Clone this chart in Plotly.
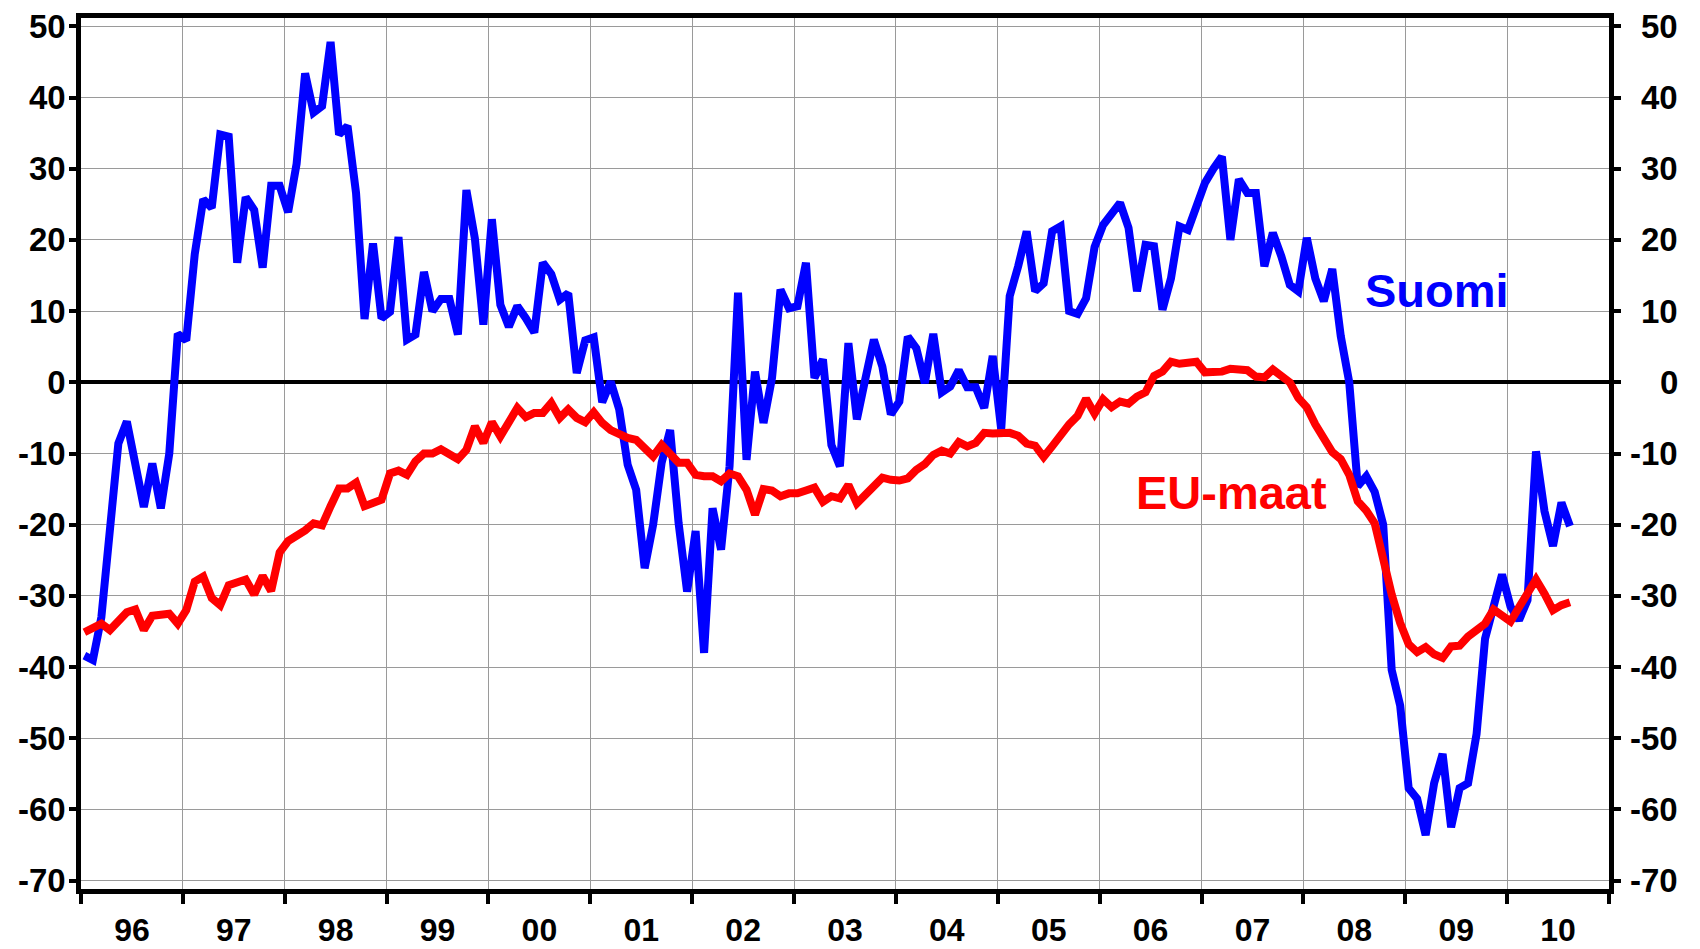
import plotly.graph_objects as go

start_year = 1996
end_year = 2011

suomi = [
    -38.4, -39, -33, -21, -8.6, -5.5, -11.2, -17.5, -11.4, -17.7,
    -10, 6.8, 5.9, 18, 25.7, 24.5, 34.8, 34.5, 16.8, 26,
    24.2, 16.1, 27.6, 27.6, 23.9, 30.7, 43.4, 37.9, 38.8, 47.8,
    34.8, 36, 26.6, 8.9, 19.5, 9, 9.9, 20.4, 6, 6.7,
    15.5, 10, 11.7, 11.7, 6.7, 27, 20.2, 8.1, 22.9, 10.9,
    7.8, 10.7, 9, 7, 16.8, 15.2, 11.6, 12.5, 1.3, 5.9,
    6.3, -2.8, 0.1, -3.8, -11.6, -15.1, -26.1, -20, -11.3, -6.7,
    -19.8, -29.4, -20.9, -38, -17.7, -23.5, -11.8, 12.6, -10.9, 1.5,
    -5.7, 0.6, 13, 10.4, 10.7, 16.8, 0.6, 3.2, -8.8, -11.8,
    5.5, -5.2, 0.5, 6, 2.2, -4.5, -2.7, 6.4, 4.8, -0.1,
    6.8, -1.4, -0.6, 1.7, -0.7, -0.7, -3.6, 3.7, -6.6, 12.1,
    16.3, 21.2, 12.8, 13.9, 21.2, 21.9, 10, 9.6, 11.8, 19,
    22.1, 23.8, 25.2, 21.7, 12.8, 19.3, 19.1, 10.2, 14.6, 21.9,
    21.4, 24.7, 28, 30, 31.7, 20, 28.5, 26.6, 26.6, 16.3,
    21, 17.7, 13.7, 12.8, 20.3, 14.6, 11.4, 15.9, 6.5, 0,
    -14.6, -13.2, -15.4, -20, -40.4, -45.4, -57, -58.5, -63.6, -56.3,
    -52.2, -62.5, -57, -56.3, -49.4, -36, -31.9, -27, -31.5, -33.4,
    -30.6, -9.7, -18.1, -23, -16.9, -20.2,
]

eu_maat = [
    -35.1, -34.5, -33.9, -34.8, -33.6, -32.3, -31.9, -34.8, -32.8, -32.6,
    -32.5, -33.9, -32, -28, -27.3, -30.3, -31.3, -28.5, -28.2, -27.7,
    -29.8, -27.2, -29.3, -23.9, -22.3, -21.7, -20.8, -19.8, -20.1, -17.4,
    -14.9, -14.9, -14.1, -17.4, -16.9, -16.5, -12.8, -12.4, -13, -11.1,
    -10, -10, -9.4, -10, -10.8, -9.5, -6.2, -8.5, -5.6, -7.6,
    -5.6, -3.6, -4.9, -4.3, -4.3, -2.9, -5, -3.8, -5, -5.6,
    -4.2, -5.7, -6.7, -7.4, -7.8, -8.1, -9.4, -10.4, -8.8, -10.2,
    -11.3, -11.3, -13, -13.2, -13.2, -13.9, -12.8, -13.2, -15.1, -18.6,
    -15, -15.2, -16, -15.6, -15.6, -15.2, -14.8, -16.8, -16, -16.3,
    -14.4, -17, -15.8, -14.8, -13.4, -13.7, -13.8, -13.5, -12.3, -11.5,
    -10.2, -9.6, -10, -8.4, -9, -8.5, -7.1, -7.2, -7.1, -7.1,
    -7.5, -8.6, -8.9, -10.5, -9, -7.3, -5.9, -4.7, -2.3, -4.4,
    -2.4, -3.5, -2.7, -3, -2, -1.4, 0.9, 1.5, 2.9, 2.6,
    2.7, 2.9, 1.4, 1.4, 1.5, 1.9, 1.7, 1.7, 0.8, 0.7,
    1.8, 0.8, 0, -2.2, -3.5, -5.9, -8, -9.8, -10.8, -13,
    -16.7, -18, -19.8, -25.3, -29.8, -33.8, -36.8, -37.9, -37.2, -38.2,
    -38.7, -37.1, -37, -35.7, -34.9, -33.9, -31.9, -32.9, -33.6, -31.6,
    -29.8, -27.7, -29.7, -32, -31.3, -30.9,
]

year_labels = ["96", "97", "98", "99", "00", "01", "02", "03", "04", "05",
               "06", "07", "08", "09", "10"]
y_ticks = [-70, -60, -50, -40, -30, -20, -10, 0, 10, 20, 30, 40, 50]

FONT = "Liberation Sans, Arial, sans-serif"
W, H = 1700, 949
ML, MR, MT, MB = 81, 91, 18, 60

x_s = [start_year + (i + 0.4) / 12 for i in range(len(suomi))]
x_e = [start_year + (i + 0.4) / 12 for i in range(len(eu_maat))]

fig = go.Figure()
fig.add_trace(go.Scatter(x=x_s, y=suomi, mode="lines", name="Suomi",
                         line=dict(color="#0000FF", width=8), hoverinfo="skip"))
fig.add_trace(go.Scatter(x=x_e, y=eu_maat, mode="lines", name="EU-maat",
                         line=dict(color="#FF0000", width=8), hoverinfo="skip"))

year_mid = [start_year + k + 0.5 for k in range(len(year_labels))]
year_starts = list(range(start_year, end_year + 1))

fig.update_xaxes(
    range=[start_year, end_year], automargin=False,
    tickmode="array", tickvals=year_mid, ticktext=year_labels,
    ticks="", showgrid=False, zeroline=False,
    showline=True, linecolor="black", linewidth=4.5, mirror=True,
    tickfont=dict(family=FONT, size=32, color="black", weight="bold"),
    ticklabelstandoff=9,
    minor=dict(tickmode="array", tickvals=year_starts, ticks="outside",
               ticklen=10, tickwidth=4, tickcolor="black",
               showgrid=True, gridcolor="#9a9a9a", gridwidth=1),
)
fig.update_yaxes(
    range=[-71.17, 51.17], automargin=False,
    tickmode="array", tickvals=y_ticks, ticktext=[str(v) for v in y_ticks],
    ticks="outside", ticklen=7, tickwidth=4, tickcolor="black",
    showgrid=True, gridcolor="#9a9a9a", gridwidth=1,
    zeroline=True, zerolinecolor="black", zerolinewidth=3.5,
    showline=True, linecolor="black", linewidth=4.5, mirror="ticks",
    tickfont=dict(family=FONT, size=33, color="black", weight="bold"),
    ticklabelstandoff=-3,
)

plot_w = W - ML - MR
annotations = []
for v in y_ticks:
    annotations.append(dict(
        xref="paper", yref="y", x=(1680 - ML) / plot_w, y=v,
        text=str(v), showarrow=False, xanchor="right", yanchor="middle",
        font=dict(family=FONT, size=33, color="black", weight="bold"),
    ))
annotations.append(dict(
    xref="x", yref="y", x=2009.31, y=12.9, text="Suomi", showarrow=False,
    xanchor="center", yanchor="middle",
    font=dict(family=FONT, size=47, color="#0000FF", weight="bold"),
))
annotations.append(dict(
    xref="x", yref="y", x=2007.29, y=-15.5, text="EU-maat", showarrow=False,
    xanchor="center", yanchor="middle",
    font=dict(family=FONT, size=47, color="#FF0000", weight="bold"),
))

fig.update_layout(
    width=W, height=H,
    margin=dict(l=ML, r=MR, t=MT, b=MB, pad=0, autoexpand=False),
    plot_bgcolor="white", paper_bgcolor="white",
    showlegend=False,
    annotations=annotations,
)

fig.write_html(
    "out.html",
    config={"displayModeBar": False},
    post_script="document.body.style.margin='0px';document.body.style.overflow='hidden';",
)
